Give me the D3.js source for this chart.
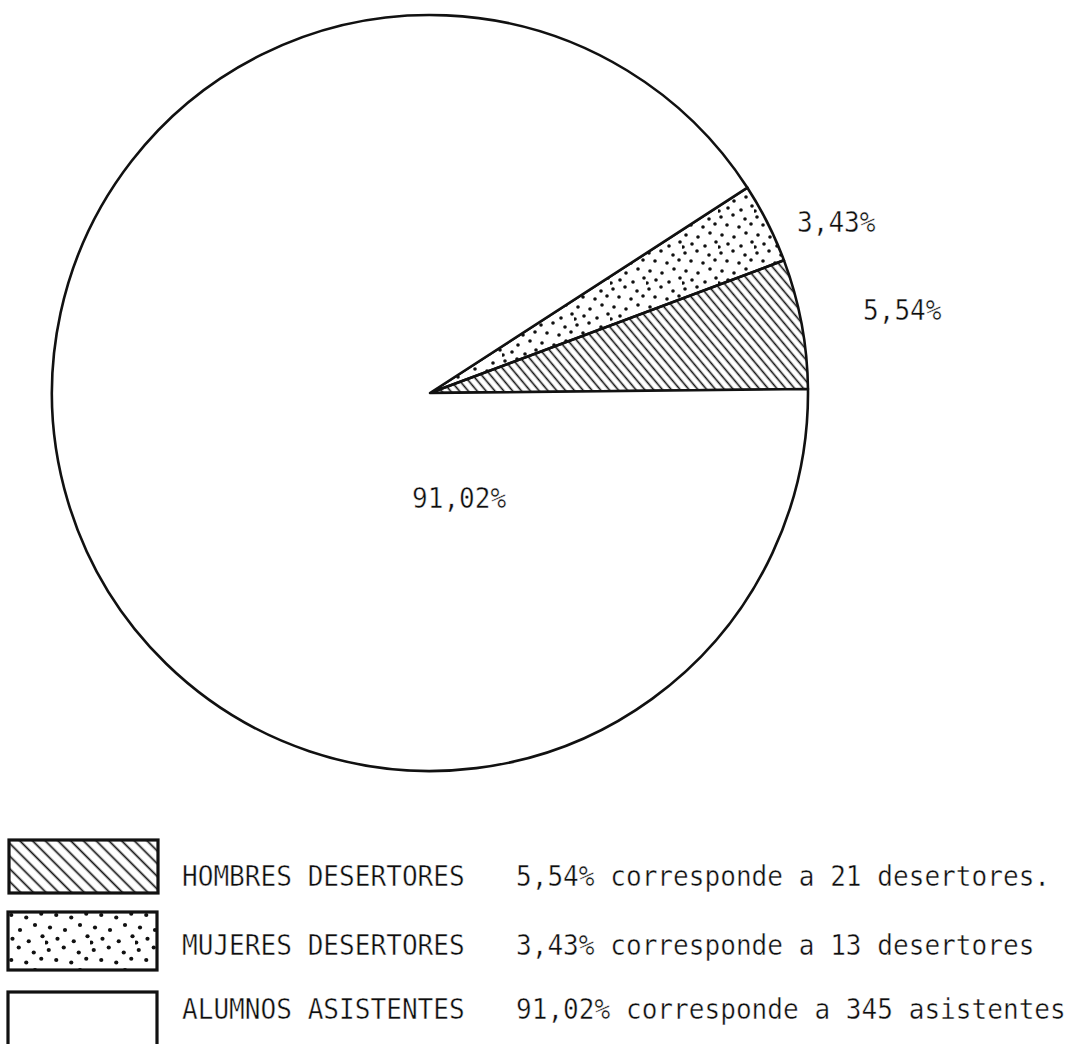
<!DOCTYPE html>
<html>
<head>
<meta charset="utf-8">
<script src="https://cdn.jsdelivr.net/npm/d3@7"></script>
<style>
  html, body { margin: 0; padding: 0; background: #fff; }
  svg { display: block; }
  text { font-family: "DejaVu Sans Mono", monospace; fill: #0d0d0d; stroke: #fff; stroke-width: 0.45px; }
</style>
</head>
<body>
<svg id="chart" width="1091" height="1044"></svg>
<script>
// Alumnos: desertores y asistentes
const categories = ["HOMBRES DESERTORES", "MUJERES DESERTORES", "ALUMNOS ASISTENTES"];
const percents = [5.54, 3.43, 91.02];
const counts = [21, 13, 345];
const sliceLabels = ["5,54%", "3,43%", "91,02%"];
const legendNotes = [
  "5,54% corresponde a 21 desertores.",
  "3,43% corresponde a 13 desertores",
  "91,02% corresponde a 345 asistentes"
];
const fills = ["url(#hatch)", "url(#dots)", "#fff"];
const legendFills = ["url(#hatchLegend)", "url(#dotsLegend)", "#fff"];

const W = 1091, H = 1044;
const cx = 430, cy = 393, R = 378;
const fontSize = 29;
const squeeze = 0.9;       // narrow the monospace glyphs to a typewriter pitch

const svg = d3.select("#chart");
svg.append("rect").attr("width", W).attr("height", H).attr("fill", "#fff");

const defs = svg.append("defs");

// diagonal hatching "\\\" for the slice and for the legend swatch
function hatch(id, gap, angle, sw) {
  const p = defs.append("pattern")
    .attr("id", id)
    .attr("patternUnits", "userSpaceOnUse")
    .attr("width", gap).attr("height", 40)
    .attr("patternTransform", `rotate(${angle})`);
  p.append("line")
    .attr("x1", gap / 2).attr("x2", gap / 2)
    .attr("y1", -1).attr("y2", 41)
    .attr("stroke", "#111").attr("stroke-width", sw);
}
hatch("hatch", 6.8, -40, 1.6);
hatch("hatchLegend", 9.0, -45, 1.7);

// hand-placed stipple tile
const stipple = [
  [3, 4], [15, 2], [27, 6], [9, 12], [21, 14], [33, 11],
  [4, 22], [16, 24], [28, 20], [10, 31], [23, 33], [34, 29], [1, 34]
];
function dots(id, scale, r) {
  const p = defs.append("pattern")
    .attr("id", id)
    .attr("patternUnits", "userSpaceOnUse")
    .attr("width", 36 * scale).attr("height", 36 * scale);
  p.selectAll("circle").data(stipple).join("circle")
    .attr("cx", d => d[0] * scale).attr("cy", d => d[1] * scale)
    .attr("r", r).attr("fill", "#111");
}
dots("dots", 1.0, 1.8);
dots("dotsLegend", 1.25, 2.1);

// pie, laid out counter-clockwise from the 3 o'clock direction
const tilt = 0.6 * Math.PI / 180;
const pie = d3.pie()
  .sort(null)
  .value(d => d)
  .startAngle(Math.PI / 2 - tilt)
  .endAngle(Math.PI / 2 - tilt - 2 * Math.PI);
const arcs = pie(percents);
const arc = d3.arc().innerRadius(0).outerRadius(R);

const g = svg.append("g").attr("transform", `translate(${cx},${cy})`);
g.selectAll("path.slice").data(arcs).join("path")
  .attr("class", "slice")
  .attr("d", arc)
  .attr("fill", (d, i) => fills[i])
  .attr("stroke", "#111")
  .attr("stroke-width", 2.6)
  .attr("stroke-linejoin", "round");

function putText(sel, x, y) {
  sel.attr("transform", (d, i) => `translate(${x(d, i)},${y(d, i)}) scale(${squeeze},1)`)
    .attr("font-size", fontSize)
    .text(d => d);
}

// slice labels
const labelPos = [[863, 320], [797, 232], [412, 508]];
putText(
  svg.selectAll("text.slice-label").data(sliceLabels).join("text").attr("class", "slice-label"),
  (d, i) => labelPos[i][0], (d, i) => labelPos[i][1]
);

// legend
const boxes = [
  { x: 9, y: 840, w: 149, h: 53 },
  { x: 8, y: 912, w: 149, h: 58 },
  { x: 8, y: 992, w: 149, h: 70 }
];
const rowBase = [886, 955, 1019];

const lg = svg.append("g");
lg.selectAll("rect").data(categories).join("rect")
  .attr("x", (d, i) => boxes[i].x)
  .attr("y", (d, i) => boxes[i].y)
  .attr("width", (d, i) => boxes[i].w)
  .attr("height", (d, i) => boxes[i].h)
  .attr("fill", (d, i) => legendFills[i])
  .attr("stroke", "#111")
  .attr("stroke-width", 3.2);

putText(
  lg.selectAll("text.cat").data(categories).join("text").attr("class", "cat"),
  () => 182, (d, i) => rowBase[i]
);
putText(
  lg.selectAll("text.note").data(legendNotes).join("text").attr("class", "note"),
  () => 516, (d, i) => rowBase[i]
);
</script>
</body>
</html>
